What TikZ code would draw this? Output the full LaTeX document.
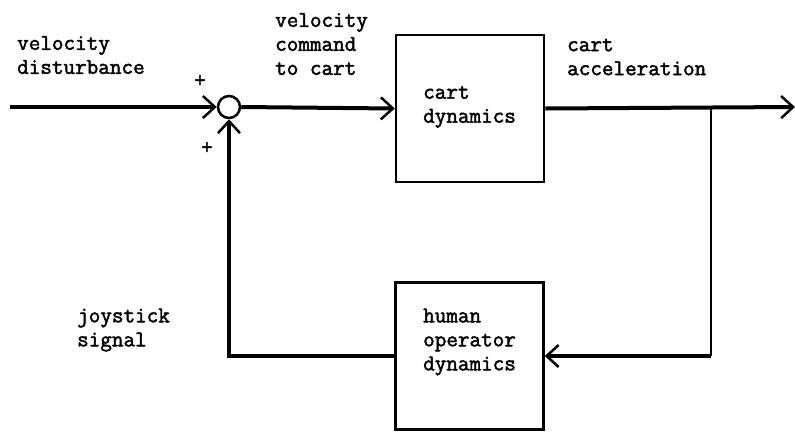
\documentclass[tikz,border=0pt]{standalone}
\usepackage{fontspec}
\newfontfamily\courfont{Latin Modern Mono}[FakeBold=2]
\usetikzlibrary{arrows.meta}
\begin{document}
\begin{tikzpicture}[x=1pt,y=-1pt,
  lbl/.style={font=\courfont\fontsize{22.5}{24}\selectfont, align=left, inner sep=0pt, anchor=west},
  blockbox/.style={draw, line width=2.5pt, minimum width=148pt, minimum height=147pt, inner sep=0pt},
  sumnode/.style={draw, circle, line width=2.5pt, minimum size=22pt, inner sep=0pt},
  barb/.style={-{Straight Barb[length=12pt,width=22pt,line width=2.5pt]}},
  mainline/.style={line width=4pt},
  thinline/.style={line width=2pt}]
\useasboundingbox (0,0) rectangle (795,432);
% blocks
\node[blockbox] (cart) at (470,108.5) {};
\node[blockbox] (human) at (469.5,356) {};
\node[sumnode] (sum) at (229,107) {};
% texts
\node[lbl] (t1) at (17,55) {velocity\\disturbance};
\node[lbl] (t2) at (275,44) {velocity\\command\\to cart};
\node[lbl] (t3) at (423,107) {cart\\dynamics};
\node[lbl] (t4) at (567,57) {cart\\acceleration};
\node[lbl] (t5) at (423,342) {human\\operator\\dynamics};
\node[lbl] (t6) at (77,330) {joystick\\signal};
\node[lbl, anchor=center] (p1) at (200,81) {+};
\node[lbl, anchor=center] (p2) at (207,148) {+};
% connectors
\coordinate (in) at (10,107);
\coordinate (out) at (795,107);
\coordinate (br) at (711,107);
\coordinate (brd) at (711,356);
\coordinate (fbc) at (229,356);
\draw[mainline, barb] (in) -- (sum.west);
\draw[mainline, barb] (sum.east) -- (cart.west);
\draw[mainline, barb] (cart.east) -- (out);
\draw[thinline] (br) -- (brd);
\draw[mainline, barb] (brd) -- (human.east);
\draw[mainline, barb] (human.west) -- (fbc) -- (sum.south);
\end{tikzpicture}
\end{document}
